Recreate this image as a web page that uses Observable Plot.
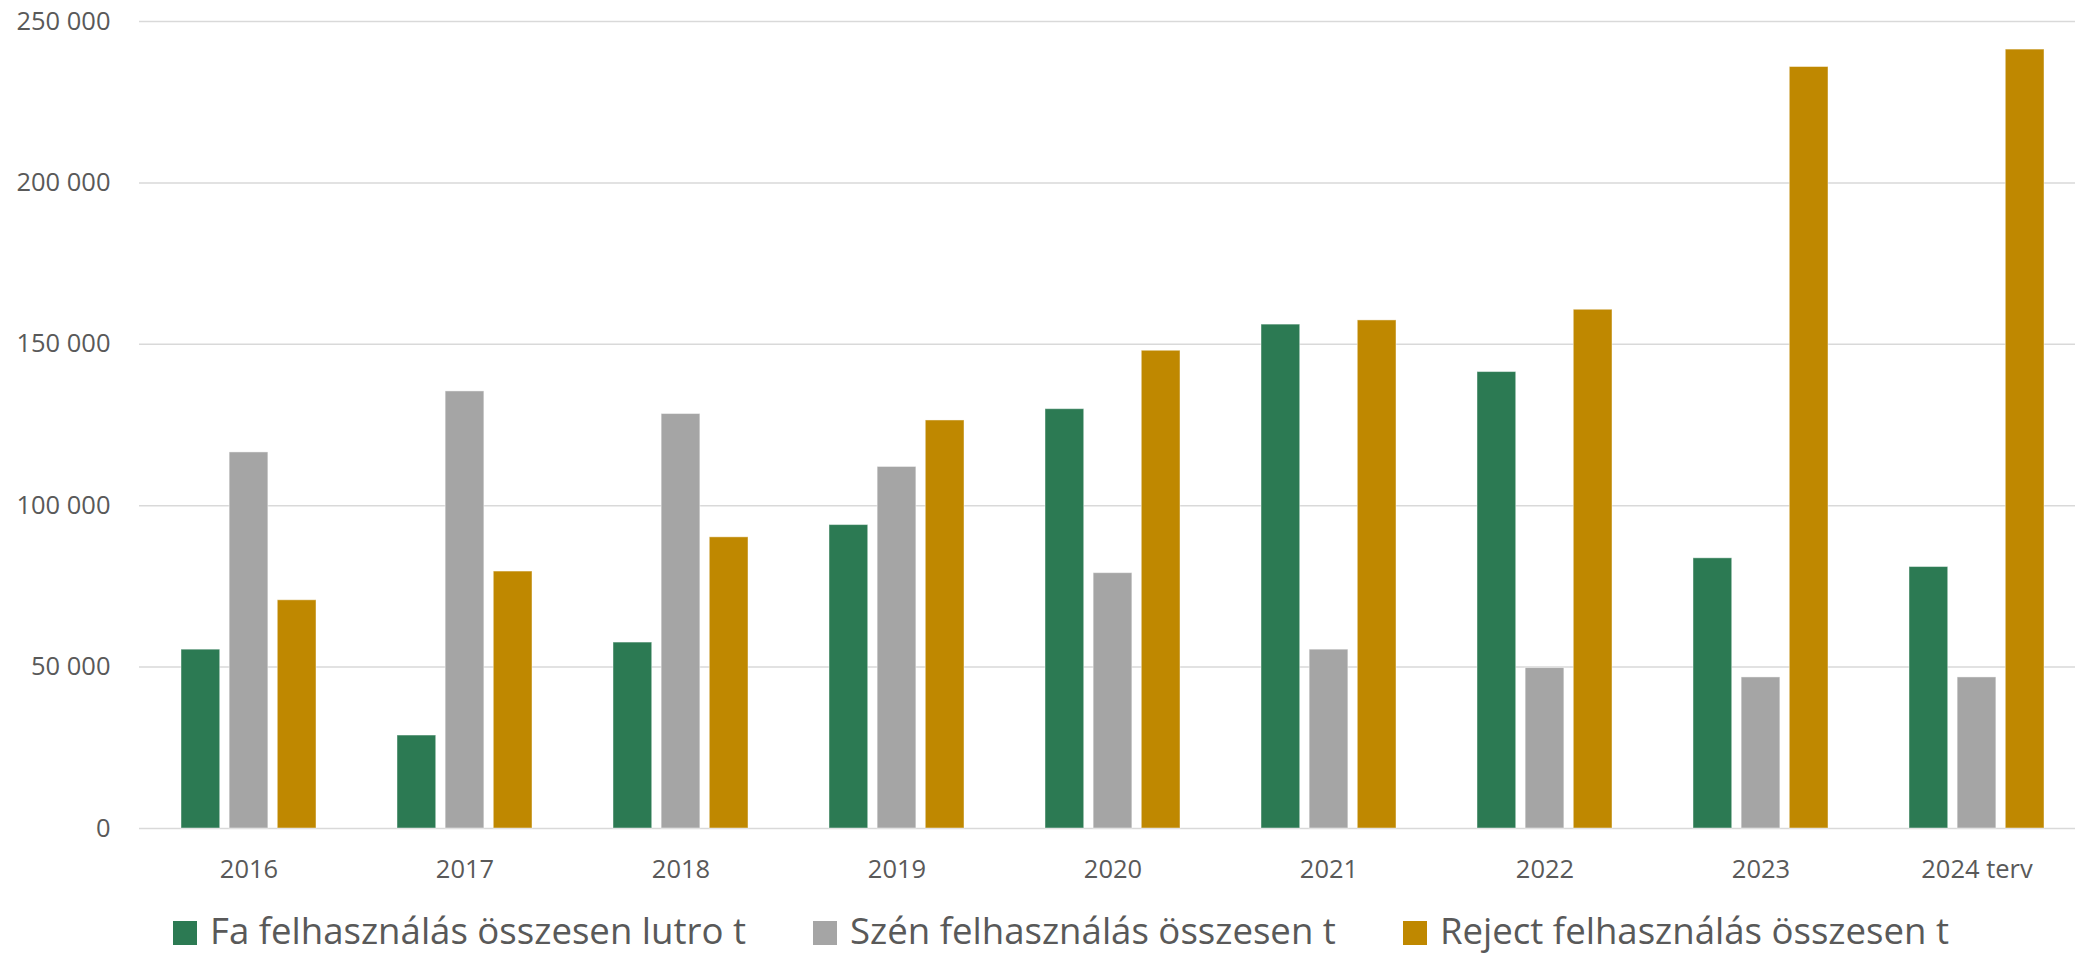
<!DOCTYPE html>
<html>
<head>
<meta charset="utf-8">
<script src="https://cdn.jsdelivr.net/npm/d3@7"></script>
<script src="https://cdn.jsdelivr.net/npm/@observablehq/plot@0.6"></script>
<style>
  html, body { margin: 0; padding: 0; background: #fff; }
  #wrap { width: 2075px; height: 956px; position: relative; overflow: hidden; }
  #legend { position: relative; height: 61px; box-sizing: border-box;
    font-family: "Open Sans", sans-serif; font-size: 36.6px; color: #595959; }
  #legend .items { position: absolute; left: 173px; top: 15px; display: flex; align-items: center; white-space: nowrap; line-height: 40px; height: 40px; }
  #legend .item { display: flex; align-items: center; margin-right: 67px; line-height: 40px; height: 40px; }
  #legend .sw { width: 24px; height: 24px; margin-right: 13px; margin-top: 5px; box-sizing: border-box; }
  #legend .tx { display: inline-block; height: 40px; line-height: 40px; }
</style>
</head>
<body>
<div id="wrap">
  <div id="chart"></div>
  <div id="legend"><div class="items"></div></div>
</div>
<script>
// ---- data ----
const years = ["2016", "2017", "2018", "2019", "2020", "2021", "2022", "2023", "2024 terv"];
const seriesNames = ["Fa felhasználás összesen lutro t", "Szén felhasználás összesen t", "Reject felhasználás összesen t"];
const fa     = [55400, 28800, 57600, 94000, 129900, 156100, 141400, 83700, 81000];
const szen   = [116500, 135400, 128400, 112000, 79100, 55400, 49700, 46800, 46800];
const reject = [70700, 79600, 90200, 126400, 148000, 157400, 160700, 235900, 241300];
const colors = ["#2C7A53", "#A5A5A5", "#BF8800"];
const yTicks = [0, 50000, 100000, 150000, 200000, 250000];

// ---- layout ----
const W = 2075, H = 895;
const xRange = [138, 2086];
const padIn = 0.375, padOut = 0.1875;
const step = (xRange[1] - xRange[0]) / (years.length - padIn + 2 * padOut);
const bw = step * (1 - padIn);
const barW = 39;
const subStep = (bw - barW) / 2;

const fmt = d3.formatLocale({decimal: ",", thousands: " ", grouping: [3], currency: ["", ""]}).format(",d");

const allSeries = [fa, szen, reject];
const barMarks = allSeries.map((vals, s) => {
  const rows = years.map((y, i) => ({year: y, value: vals[i]}));
  return Plot.barY(rows, {
    x: "year", y: "value", fill: colors[s],
    stroke: "white", strokeOpacity: 0.45, strokeWidth: 1,
    insetLeft: s * subStep, insetRight: bw - barW - s * subStep
  });
});

const chart = Plot.plot({
  width: W, height: H,
  marginLeft: 139, marginRight: 0, marginTop: 21, marginBottom: 67,
  x: {domain: years, range: xRange, paddingInner: padIn, paddingOuter: padOut},
  y: {domain: [0, 250000], range: [828, 21]},
  style: {fontFamily: "'Open Sans', sans-serif", fontSize: "25.5px", color: "#595959", background: "white"},
  marks: [
    Plot.gridY(yTicks, {stroke: "#D9D9D9", strokeOpacity: 1, strokeWidth: 1.5}),
    ...barMarks,
    Plot.axisY(yTicks, {tickSize: 0, tickPadding: 29, tickFormat: fmt, label: null, fill: "#595959"}),
    Plot.axisX({tickSize: 0, tickPadding: 31, label: null, fill: "#595959"})
  ]
});
document.getElementById("chart").appendChild(chart);

// ---- legend ----
const items = document.querySelector("#legend .items");
seriesNames.forEach((name, i) => {
  const it = document.createElement("div");
  it.className = "item";
  const sw = document.createElement("span");
  sw.className = "sw";
  sw.style.background = colors[i];
  const tx = document.createElement("span");
  tx.className = "tx";
  tx.textContent = name;
  it.appendChild(sw); it.appendChild(tx);
  items.appendChild(it);
});
</script>
</body>
</html>
